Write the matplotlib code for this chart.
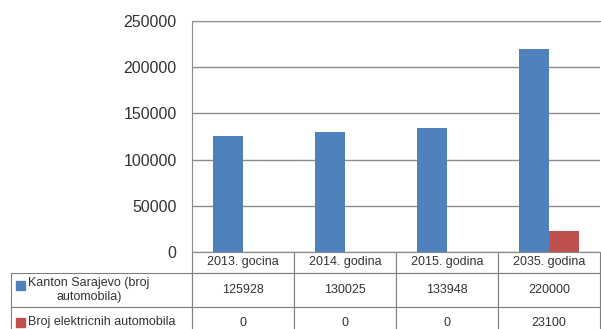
import matplotlib.pyplot as plt
import numpy as np

years = ['2013. gocina', '2014. godina', '2015. godina', '2035. godina']
cars_total = [125928, 130025, 133948, 220000]
cars_electric = [0, 0, 0, 23100]
row_labels = ['Kanton Sarajevo (broj\nautomobila)', 'Broj elektricnih automobila']
yticks = [0, 50000, 100000, 150000, 200000, 250000]

blue = '#4F81BD'
red = '#C0504D'
grid_col = '#8C8C8C'
text_col = '#333333'

plt.rcParams['font.family'] = ['Liberation Sans', 'DejaVu Sans']

W, H = 601, 329
fig = plt.figure(figsize=(W / 100, H / 100), dpi=100)
ax_l, ax_r, ax_t, ax_b = 192, 600, 21, 252
ax = fig.add_axes([ax_l / W, 1 - ax_b / H, (ax_r - ax_l) / W, (ax_b - ax_t) / H])
ax_w, ax_h = ax_r - ax_l, ax_b - ax_t

x = np.arange(len(years))
w = 0.29
ax.bar(x - w / 2, cars_total, w, color=blue, zorder=3)
ax.bar(x + w / 2, cars_electric, w, color=red, zorder=3)

ax.set_xlim(-0.5, len(years) - 0.5)
ax.set_ylim(0, 250000)
ax.set_yticks(yticks)
ax.set_yticklabels([str(v) for v in yticks], fontsize=11.5, color=text_col)
ax.tick_params(axis='y', length=0, pad=11)
ax.set_xticks([])
ax.grid(axis='y', color=grid_col, linewidth=1, zorder=0)
for s in ax.spines.values():
    s.set_color(grid_col)
ax.spines['right'].set_visible(False)

# data table under the plot (last row runs past the bottom edge, as in the source)
tbl_left, tbl_top, tbl_bottom = 11, 252, 338
cell_text = [[''] + years,
             [row_labels[0]] + [str(v) for v in cars_total],
             [row_labels[1]] + [str(v) for v in cars_electric]]
tbl = ax.table(cellText=cell_text, cellLoc='center',
               bbox=[-(ax_l - tbl_left) / ax_w, -(tbl_bottom - tbl_top) / ax_h,
                     (ax_r - tbl_left) / ax_w, (tbl_bottom - tbl_top) / ax_h])
tbl.auto_set_font_size(False)
tbl.set_fontsize(9)
col_w = [ax_l - tbl_left, 102, 102, 102, 102]
row_h = [21, 34, 31]
for (r, c), cell in tbl.get_celld().items():
    cell.set_width(col_w[c])
    cell.set_height(row_h[r])
    cell.set_edgecolor('#7F7F7F')
    cell.set_linewidth(0.8)
    cell.get_text().set_color(text_col)
tbl[0, 0].visible_edges = ''
for r in (1, 2):
    cell = tbl[r, 0]
    cell._loc = 'left'
    cell.PAD = 0.094
    cell.get_text().set_horizontalalignment('left')
    cell.get_text().set_multialignment('center')

# legend keys inside the row label cells
for y0, col in ((281, blue), (318, red)):
    fig.patches.append(plt.Rectangle((16 / W, 1 - (y0 + 9) / H), 9 / W, 9 / H,
                                     transform=fig.transFigure, color=col))

fig.savefig('out.png', dpi=100)
